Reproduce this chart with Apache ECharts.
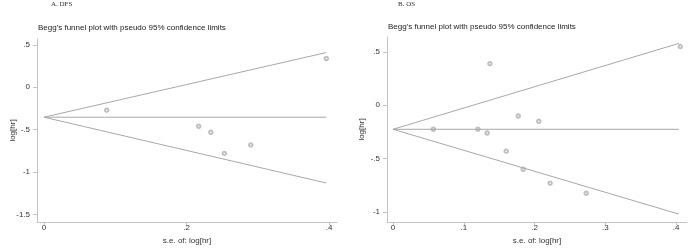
<!DOCTYPE html>
<html>
<head>
<meta charset="utf-8">
<script src="https://cdn.jsdelivr.net/npm/echarts@6/dist/echarts.min.js"></script>
<style>
  html, body { margin: 0; padding: 0; background: #fff; }
  #root { width: 700px; height: 251px; }
</style>
</head>
<body>
<div id="root"></div>
<script>
// panel A: DFS
var dfsSe = [0.088, 0.217, 0.234, 0.253, 0.290, 0.396]
var dfsLogHr = [-0.27, -0.46, -0.53, -0.78, -0.68, 0.34]
var dfsTheta = -0.353
var dfsEndSe = 0.396
var dfsUpperEnd = 0.41
var dfsLowerEnd = -1.13

// panel B: OS
var osSe = [0.057, 0.120, 0.133, 0.137, 0.160, 0.177, 0.184, 0.206, 0.222, 0.273, 0.406]
var osLogHr = [-0.225, -0.225, -0.26, 0.39, -0.43, -0.10, -0.60, -0.15, -0.73, -0.825, 0.55]
var osTheta = -0.225
var osEndSe = 0.404
var osUpperEnd = 0.58
var osLowerEnd = -1.02

// tick labels
var dfsXTicks = [0, 0.2, 0.4]
var dfsYTicks = [0.5, 0, -0.5, -1, -1.5]
var osXTicks = [0, 0.1, 0.2, 0.3, 0.4]
var osYTicks = [0.5, 0, -0.5, -1]

var titleText = "Begg's funnel plot with pseudo 95% confidence limits"
var xName = 's.e. of: log[hr]'
var yName = 'log[hr]'

function stataLabel (v) {
  var s = String(Math.round(v * 100) / 100)
  return s.replace(/^0\./, '.').replace(/^-0\./, '-.')
}

var axisGray = '#c4c4c4'
var lineGray = '#a8a8a8'
var textStyle = { fontFamily: 'Liberation Sans', fontSize: 8, color: '#333' }

function xAxisFor (gridIndex, min, max, ticks) {
  return {
    type: 'value', gridIndex: gridIndex, min: min, max: max,
    name: xName, nameLocation: 'middle', nameGap: 10,
    nameTextStyle: textStyle,
    axisLine: { show: true, onZero: false, lineStyle: { color: axisGray, width: 1 } },
    axisTick: { show: true, length: 3, customValues: ticks, lineStyle: { color: axisGray } },
    axisLabel: Object.assign({ margin: 2, customValues: ticks, formatter: stataLabel }, textStyle),
    splitLine: { show: false }
  }
}

function yAxisFor (gridIndex, min, max, ticks, gap) {
  return {
    type: 'value', gridIndex: gridIndex, min: min, max: max,
    name: yName, nameLocation: 'middle', nameGap: gap, nameRotate: 90,
    nameMoveOverlap: false,
    nameTextStyle: textStyle,
    axisLine: { show: true, onZero: false, lineStyle: { color: axisGray, width: 1 } },
    axisTick: { show: true, length: 4, customValues: ticks, lineStyle: { color: axisGray } },
    axisLabel: Object.assign({ margin: 7, customValues: ticks, formatter: stataLabel }, textStyle),
    splitLine: { show: false }
  }
}

function funnelSeries (idx, theta, endSe, upper, lower) {
  var ls = { color: lineGray, width: 1 }
  var common = { type: 'line', xAxisIndex: idx, yAxisIndex: idx, showSymbol: false, silent: true, lineStyle: ls, animation: false }
  return [
    Object.assign({ data: [[0, theta], [endSe, upper]] }, common),
    Object.assign({ data: [[0, theta], [endSe, lower]] }, common),
    Object.assign({ data: [[0, theta], [endSe, theta]] }, common)
  ]
}

function points (se, lh) {
  return se.map(function (s, i) { return [s, lh[i]] })
}

var chart = echarts.init(document.getElementById('root'))

var markerStyle = { color: '#b0b0b0', borderWidth: 1 }

var option = {
  animation: false,
  title: [
    { text: 'A. DFS', left: 51, top: 1, padding: 0,
      textStyle: { fontFamily: 'Liberation Serif', fontSize: 7, fontWeight: 'normal', color: '#333' } },
    { text: 'B. OS', left: 398, top: 1, padding: 0,
      textStyle: { fontFamily: 'Liberation Serif', fontSize: 7, fontWeight: 'normal', color: '#333' } },
    { text: titleText, left: 38, top: 24, padding: 0,
      textStyle: { fontFamily: 'Liberation Sans', fontSize: 8, fontWeight: 'normal', color: '#222' } },
    { text: titleText, left: 388, top: 23, padding: 0,
      textStyle: { fontFamily: 'Liberation Sans', fontSize: 8, fontWeight: 'normal', color: '#222' } }
  ],
  grid: [
    { left: 37, top: 39, width: 300, height: 183 },
    { left: 387, top: 37, width: 300, height: 185 }
  ],
  xAxis: [
    xAxisFor(0, -0.0098, 0.411, dfsXTicks),
    xAxisFor(1, -0.0085, 0.4155, osXTicks)
  ],
  yAxis: [
    yAxisFor(0, -1.59, 0.57, dfsYTicks, 20),
    yAxisFor(1, -1.094, 0.64, osYTicks, 21)
  ],
  series: [].concat(
    funnelSeries(0, dfsTheta, dfsEndSe, dfsUpperEnd, dfsLowerEnd),
    funnelSeries(1, osTheta, osEndSe, osUpperEnd, osLowerEnd),
    [
      { type: 'scatter', xAxisIndex: 0, yAxisIndex: 0, data: points(dfsSe, dfsLogHr),
        symbol: 'emptyCircle', symbolSize: 3.5, itemStyle: markerStyle },
      { type: 'scatter', xAxisIndex: 1, yAxisIndex: 1, data: points(osSe, osLogHr),
        symbol: 'emptyCircle', symbolSize: 3.5, itemStyle: markerStyle }
    ]
  )
}

chart.setOption(option)
</script>
</body>
</html>
